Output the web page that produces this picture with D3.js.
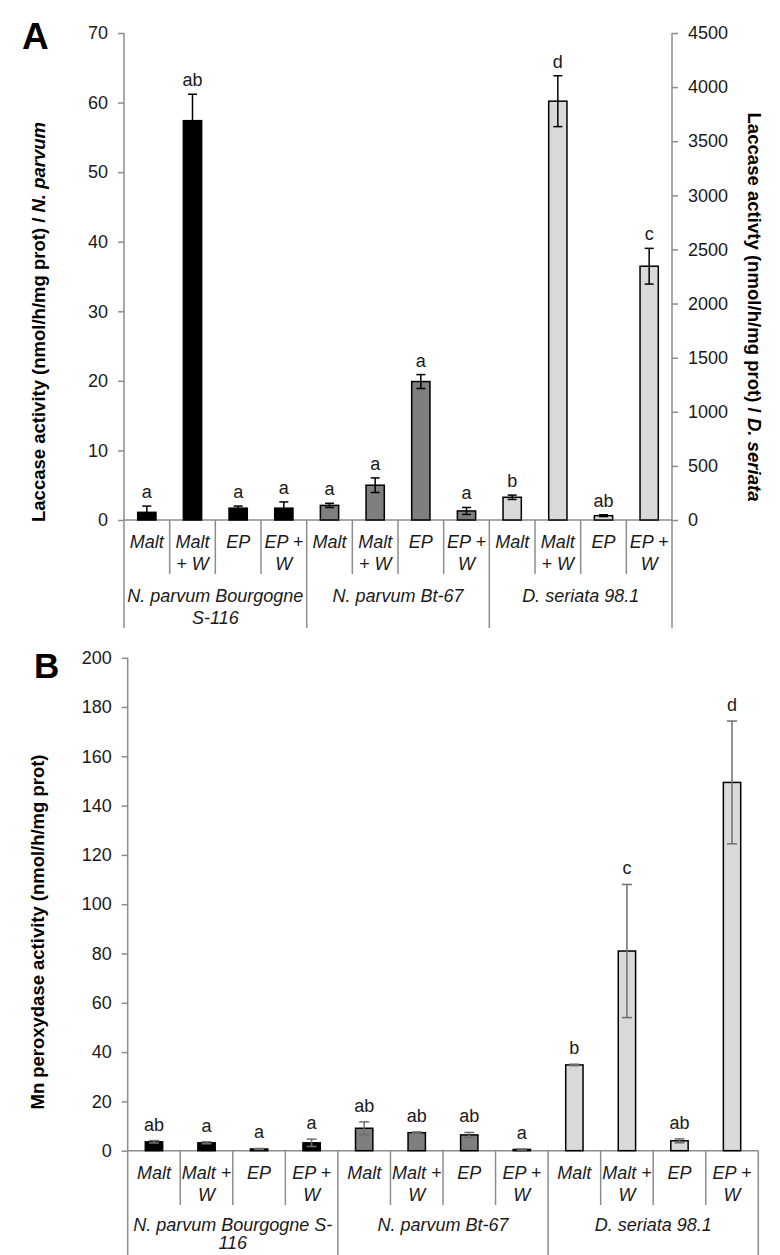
<!DOCTYPE html>
<html><head><meta charset="utf-8">
<script src="https://cdn.jsdelivr.net/npm/d3@7"></script>
<style>
body{margin:0;background:#fff}
svg{display:block}
text{font-family:"Liberation Sans",Arial,Helvetica,sans-serif}
</style>
</head><body>
<svg id="c" width="780" height="1255"></svg>
<script>
// ---------- data ----------
const strains = ["N. parvum Bourgogne S-116", "N. parvum Bt-67", "D. seriata 98.1"];
const conditions = ["Malt", "Malt + W", "EP", "EP + W"];

// Panel A: laccase activity (N. parvum on left axis, D. seriata on right axis)
const laccaseMean = [1.1, 57.4, 1.7, 1.7,   2.1, 5.0, 19.9, 1.3,   210, 3870, 40, 2345];
const laccaseErr  = [0.9, 3.8, 0.3, 0.9,    0.3, 1.05, 1.0, 0.5,   20, 235, 8, 165];
const laccaseLetters = ["a","ab","a","a", "a","a","a","a", "b","d","ab","c"];
const laccaseLeftTicks  = [0, 10, 20, 30, 40, 50, 60, 70];
const laccaseRightTicks = [0, 500, 1000, 1500, 2000, 2500, 3000, 3500, 4000, 4500];

// Panel B: Mn peroxydase activity
const mnpMean = [3.6, 3.2, 0.7, 3.2,   9.1, 7.3, 6.4, 0.5,   34.8, 81, 4.0, 149.4];
const mnpErr  = [0.5, 0.4, 0.2, 1.5,   2.6, 0.3, 1.0, 0.2,   0.3, 27, 0.8, 24.9];
const mnpLetters = ["ab","a","a","a", "ab","ab","ab","a", "b","c","ab","d"];
const mnpTicks = [0, 20, 40, 60, 80, 100, 120, 140, 160, 180, 200];

// category label line breaks as printed
const condLinesA = [["Malt"], ["Malt", "+ W"], ["EP"], ["EP +", "W"]];
const condLinesB = [["Malt"], ["Malt +", "W"], ["EP"], ["EP +", "W"]];
const strainLinesA = [["N. parvum Bourgogne", "S-116"], ["N. parvum Bt-67"], ["D. seriata 98.1"]];
const strainLinesB = [["N. parvum Bourgogne S-", "116"], ["N. parvum Bt-67"], ["D. seriata 98.1"]];

// ---------- drawing ----------
const svg = d3.select("#c");
const AXIS = "#8c8c8c", INK = "#1a1a1a";
const fills = ["#000000", "#7f7f7f", "#d9d9d9"];
const FS = 18;

function styleAxis(sel) {
  sel.select(".domain").remove();
  sel.selectAll(".tick line").attr("stroke", AXIS).attr("stroke-width", 1.5);
  sel.selectAll(".tick text").attr("fill", INK).style("font-size", FS + "px");
}

function panel(o) {
  const g = svg.append("g");
  const idx = d3.range(12);
  const x = d3.scaleBand().domain(idx).range([o.x0, o.x1])
    .paddingInner(o.pad).paddingOuter(o.pad / 2);
  const step = x.step();
  const base = o.yScales[0].range()[0];
  const top = o.yScales[0].range()[1];
  const scaleOf = i => o.yScales[o.scaleIndex(i)];

  // left axis
  const la = g.append("g").attr("transform", `translate(${o.x0},0)`)
    .call(d3.axisLeft(o.yScales[0]).tickValues(o.leftTicks).tickSize(6).tickPadding(10).tickFormat(d3.format("d")));
  styleAxis(la);
  g.append("line").attr("x1", o.x0).attr("x2", o.x0).attr("y1", top).attr("y2", o.longY)
    .attr("stroke", AXIS).attr("stroke-width", 1.5);

  if (o.rightTicks) {
    const ra = g.append("g").attr("transform", `translate(${o.x1},0)`)
      .call(d3.axisRight(o.yScales[1]).tickValues(o.rightTicks).tickSize(6).tickPadding(10).tickFormat(d3.format("d")));
    styleAxis(ra);
    g.append("line").attr("x1", o.x1).attr("x2", o.x1).attr("y1", top).attr("y2", o.longY)
      .attr("stroke", AXIS).attr("stroke-width", 1.5);
  } else {
    g.append("line").attr("x1", o.x1).attr("x2", o.x1).attr("y1", base).attr("y2", o.longY)
      .attr("stroke", AXIS).attr("stroke-width", 1.5);
  }

  // baseline
  g.append("line").attr("x1", o.x0).attr("x2", o.x1).attr("y1", base).attr("y2", base)
    .attr("stroke", AXIS).attr("stroke-width", 1.5);

  // separators
  d3.range(1, 12).forEach(i => {
    const xx = o.x0 + i * step;
    g.append("line").attr("x1", xx).attr("x2", xx).attr("y1", base)
      .attr("y2", i % 4 === 0 ? o.longY : o.shortY)
      .attr("stroke", AXIS).attr("stroke-width", 1.5);
  });

  // bars
  g.selectAll("rect.bar").data(idx).join("rect").attr("class", "bar")
    .attr("x", i => x(i)).attr("width", x.bandwidth())
    .attr("y", i => scaleOf(i)(o.mean[i]))
    .attr("height", i => base - scaleOf(i)(o.mean[i]))
    .attr("fill", i => fills[Math.floor(i / 4)])
    .attr("stroke", "#000").attr("stroke-width", 1.5);

  // error bars
  const eb = g.append("g").attr("stroke", o.errColor).attr("stroke-width", 1.5);
  idx.forEach(i => {
    const s = scaleOf(i), cx = x(i) + x.bandwidth() / 2;
    const yHi = s(o.mean[i] + o.err[i]), yLo = s(Math.max(0, o.mean[i] - o.err[i]));
    eb.append("line").attr("x1", cx).attr("x2", cx).attr("y1", yHi).attr("y2", yLo);
    eb.append("line").attr("x1", cx - o.cap / 2).attr("x2", cx + o.cap / 2).attr("y1", yHi).attr("y2", yHi);
    eb.append("line").attr("x1", cx - o.cap / 2).attr("x2", cx + o.cap / 2).attr("y1", yLo).attr("y2", yLo);
  });

  // significance letters
  g.selectAll("text.sig").data(idx).join("text").attr("class", "sig")
    .attr("x", i => x(i) + x.bandwidth() / 2)
    .attr("y", i => scaleOf(i)(o.mean[i] + o.err[i]) - o.gap)
    .attr("text-anchor", "middle").attr("fill", INK).style("font-size", FS + "px")
    .text(i => o.letters[i]);

  // condition labels
  idx.forEach(i => {
    const lines = o.condLines[i % 4];
    lines.forEach((t, k) => {
      g.append("text").attr("x", o.x0 + (i + 0.5) * step).attr("y", o.condY[k])
        .attr("text-anchor", "middle").attr("fill", INK)
        .style("font-size", FS + "px").style("font-style", "italic").text(t);
    });
  });
  // strain labels
  o.strainLines.forEach((lines, s) => {
    lines.forEach((t, k) => {
      g.append("text").attr("x", o.x0 + (s * 4 + 2) * step).attr("y", o.strainY[k])
        .attr("text-anchor", "middle").attr("fill", INK)
        .style("font-size", FS + "px").style("font-style", "italic").text(t);
    });
  });
}

function title(x, y, rot, len, parts) {
  const t = svg.append("text").attr("transform", `translate(${x},${y}) rotate(${rot})`)
    .attr("text-anchor", "middle").attr("dy", "0.35em").attr("fill", "#000")
    .style("font-size", FS + "px").style("font-weight", "bold")
    .attr("textLength", len).attr("lengthAdjust", "spacingAndGlyphs");
  parts.forEach(p => t.append("tspan").style("font-style", p[1] ? "italic" : "normal").text(p[0]));
}

// Panel A
const yA  = d3.scaleLinear().domain([0, 70]).range([520, 33]);
const yA2 = d3.scaleLinear().domain([0, 4500]).range([520, 33]);
panel({
  x0: 124, x1: 672, pad: 0.6, yScales: [yA, yA2], scaleIndex: i => (i >= 8 ? 1 : 0),
  leftTicks: laccaseLeftTicks, rightTicks: laccaseRightTicks,
  mean: laccaseMean, err: laccaseErr, letters: laccaseLetters,
  errColor: "#000", cap: 9, gap: 8,
  shortY: 574, longY: 628, condLines: condLinesA, condY: [548, 570],
  strainLines: strainLinesA, strainY: [602, 624]
});
title(39, 322, -90, 400, [["Laccase activity (nmol/h/mg prot) / ", false], ["N. parvum", true]]);
title(754, 307, 90, 389, [["Laccase activty (nmol/h/mg prot) / ", false], ["D. seriata", true]]);
svg.append("text").attr("x", 22).attr("y", 49).style("font-size", "37px").style("font-weight", "bold").text("A");

// Panel B
const yB = d3.scaleLinear().domain([0, 200]).range([1150.7, 657.7]);
panel({
  x0: 127.7, x1: 758.3, pad: 0.67, yScales: [yB], scaleIndex: () => 0,
  leftTicks: mnpTicks, rightTicks: null,
  mean: mnpMean, err: mnpErr, letters: mnpLetters,
  errColor: "#6e6e6e", cap: 10, gap: 10,
  shortY: 1205, longY: 1255, condLines: condLinesB, condY: [1179, 1201],
  strainLines: strainLinesB, strainY: [1231, 1249]
});
title(38, 932, -90, 355, [["Mn peroxydase activity (nmol/h/mg prot)", false]]);
svg.append("text").attr("x", 34).attr("y", 678).style("font-size", "35px").style("font-weight", "bold").text("B");
</script>
</body></html>
